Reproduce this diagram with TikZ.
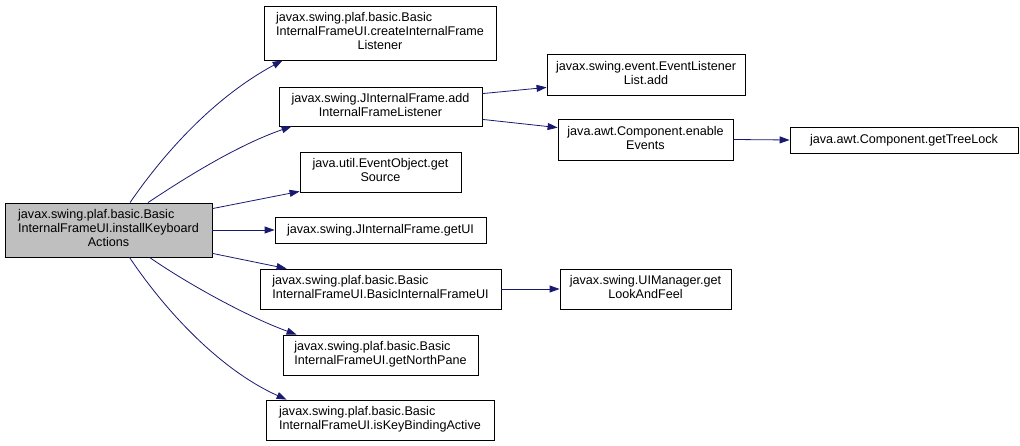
\documentclass[tikz,border=0pt]{standalone}
\usepackage{fontspec}
\setmainfont{Liberation Sans}
\usetikzlibrary{arrows.meta,calc}
\definecolor{edgec}{RGB}{25,25,112}
\definecolor{mainfill}{RGB}{191,191,191}
\newcommand{\onel}[1]{#1}
\newcommand{\twol}[2]{\begin{tabular}{@{}l@{}}#1\\\multicolumn{1}{@{}c@{}}{#2}\end{tabular}}
\newcommand{\threel}[3]{\begin{tabular}{@{}l@{}}#1\\#2\\\multicolumn{1}{@{}c@{}}{#3}\end{tabular}}
\begin{document}
\begin{tikzpicture}[x=1pt,y=-1pt,
  fnbox/.style={draw=black,line width=0.8pt,fill=white,inner sep=0pt,
    font=\fontsize{12.6}{14}\selectfont},
  calledge/.style={draw=edgec,line width=0.8pt,-{Triangle[length=10pt,width=7pt]}}]
\useasboundingbox (0,0) rectangle (1020,446);
\renewcommand{\arraystretch}{1}
\node[fnbox,fill=mainfill,minimum width=207pt,minimum height=54pt] (main) at (108.5,230)
  {\threel{javax.swing.plaf.basic.Basic}{InternalFrameUI.installKeyboard}{Actions}};
\node[fnbox,minimum width=232pt,minimum height=54pt] (n1) at (380,33)
  {\threel{javax.swing.plaf.basic.Basic}{InternalFrameUI.createInternalFrame}{Listener}};
\node[fnbox,minimum width=203pt,minimum height=39pt] (n2) at (380.5,106.5)
  {\twol{javax.swing.JInternalFrame.add}{InternalFrameListener}};
\node[fnbox,minimum width=161pt,minimum height=40pt] (n3) at (380.5,172)
  {\twol{java.util.EventObject.get}{Source}};
\node[fnbox,minimum width=211pt,minimum height=26pt] (n4) at (380.5,230)
  {javax.swing.JInternalFrame.getUI};
\node[fnbox,minimum width=241pt,minimum height=40pt] (n5) at (380.5,289)
  {\twol{javax.swing.plaf.basic.Basic}{InternalFrameUI.BasicInternalFrameUI}};
\node[fnbox,minimum width=195pt,minimum height=40pt] (n6) at (380.5,355)
  {\twol{javax.swing.plaf.basic.Basic}{InternalFrameUI.getNorthPane}};
\node[fnbox,minimum width=228pt,minimum height=40pt] (n7) at (380,420)
  {\twol{javax.swing.plaf.basic.Basic}{InternalFrameUI.isKeyBindingActive}};
\node[fnbox,minimum width=198pt,minimum height=41pt] (n8) at (646,74.5)
  {\twol{javax.swing.event.EventListener}{List.add}};
\node[fnbox,minimum width=175pt,minimum height=41pt] (n9) at (645.5,139.5)
  {\twol{java.awt.Component.enable}{Events}};
\node[fnbox,minimum width=228pt,minimum height=26pt] (n10) at (904,140)
  {java.awt.Component.getTreeLock};
\node[fnbox,minimum width=171pt,minimum height=40pt] (n11) at (645.5,289)
  {\twol{javax.swing.UIManager.get}{LookAndFeel}};
% edges
\draw[calledge] ($(main.north)+(21.5,0)$) .. controls +(40,-58) and +(-63,34) .. ($(n1.south west)+(19,0)$);
\draw[calledge] ($(main.north)+(39.5,0)$) .. controls +(42,-28) and +(-52,18) .. ($(n2.south west)+(13,0)$);
\draw[calledge] ($(main.north east)+(0,6)$) -- ($(n3.south west)+(0,-1)$);
\draw[calledge] (main.east) -- (n4.west);
\draw[calledge] ($(main.south east)+(0,-4)$) -- ($(n5.north west)+(27,0)$);
\draw[calledge] ($(main.south)+(41,0)$) .. controls +(40.5,28) and +(-47,-17) .. ($(n6.north west)+(14,0)$);
\draw[calledge] ($(main.south)+(21,0)$) .. controls +(35.5,53) and +(-67,-30) .. ($(n7.north west)+(21,0)$);
\draw[calledge] ($(n2.north east)+(0,7)$) -- ($(n8.south west)+(0,-8)$);
\draw[calledge] ($(n2.south east)+(0,-7)$) -- ($(n9.north west)+(0,9)$);
\draw[calledge] (n9.east) -- (n10.west);
\draw[calledge] (n5.east) -- (n11.west);
\end{tikzpicture}
\end{document}
